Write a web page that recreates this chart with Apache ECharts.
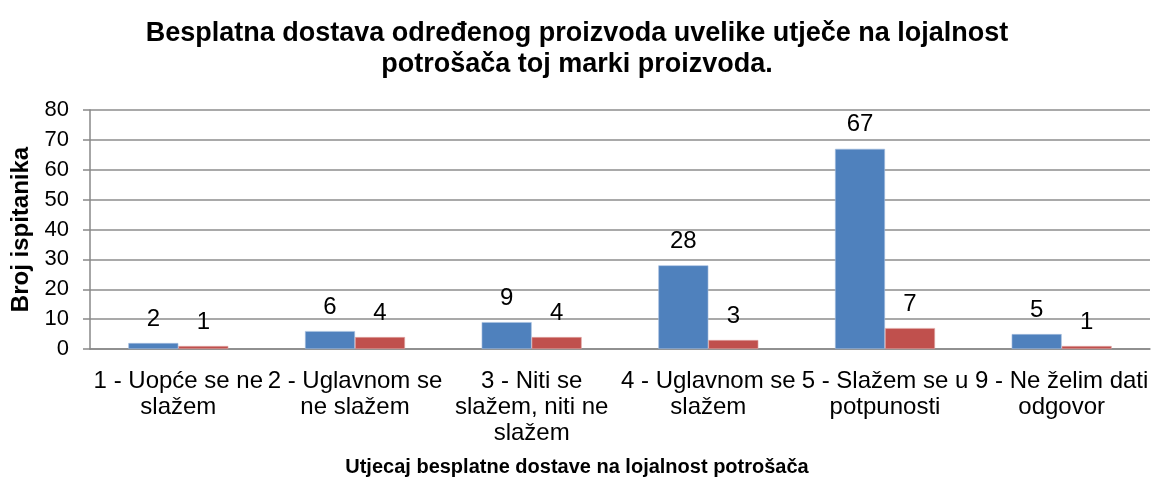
<!DOCTYPE html>
<html>
<head>
<meta charset="utf-8">
<script src="https://cdn.jsdelivr.net/npm/echarts@6/dist/echarts.min.js"></script>
<style>
  html, body { margin: 0; padding: 0; background: #ffffff; }
  #chart { width: 1154px; height: 478px; }
</style>
</head>
<body>
<div id="chart"></div>
<script>
// Response categories (x axis), wrapped as they are printed under the axis
const categories = [
  '1 - Uopće se ne\nslažem',
  '2 - Uglavnom se\nne slažem',
  '3 - Niti se\nslažem, niti ne\nslažem',
  '4 - Uglavnom se\nslažem',
  '5 - Slažem se u\npotpunosti',
  '9 - Ne želim dati\nodgovor'
];

// Respondent counts for the two groups
const seriesA = [2, 6, 9, 28, 67, 5];
const seriesB = [1, 4, 4, 3, 7, 1];

// Value axis range
const yMin = 0;
const yMax = 80;
const yStep = 10;

const titleText = 'Besplatna dostava određenog proizvoda uvelike utječe na lojalnost\npotrošača toj marki proizvoda.';
const xAxisTitle = 'Utjecaj besplatne dostave na lojalnost potrošača';
const yAxisTitle = 'Broj ispitanika';

const FONT = '"Liberation Sans", Arial, sans-serif';

const chart = echarts.init(document.getElementById('chart'), null, { renderer: 'canvas' });

const labelStyle = {
  show: true,
  position: 'top',
  distance: 12,
  color: '#000',
  fontFamily: FONT,
  fontSize: 24
};

chart.setOption({
  backgroundColor: '#ffffff',
  animation: false,
  title: [
    {
      text: titleText,
      left: 'center',
      top: 13,
      textStyle: {
        fontFamily: FONT,
        fontWeight: 'bold',
        fontSize: 27,
        lineHeight: 31,
        color: '#000'
      }
    },
    {
      text: xAxisTitle,
      left: 'center',
      top: 452,
      textStyle: {
        fontFamily: FONT,
        fontWeight: 'bold',
        fontSize: 20,
        color: '#000'
      }
    }
  ],
  grid: { left: 90, right: 4, top: 110, bottom: 129, containLabel: false },
  xAxis: {
    type: 'category',
    data: categories,
    axisLine: { show: true, lineStyle: { color: '#888', width: 1.5 } },
    axisTick: { show: false },
    axisLabel: {
      interval: 0,
      margin: 19,
      color: '#000',
      fontFamily: FONT,
      fontSize: 24,
      lineHeight: 26,
      align: 'center'
    }
  },
  yAxis: {
    type: 'value',
    min: yMin,
    max: yMax,
    interval: yStep,
    name: yAxisTitle,
    nameLocation: 'middle',
    nameRotate: 90,
    nameGap: 56,
    nameTextStyle: {
      fontFamily: FONT,
      fontWeight: 'bold',
      fontSize: 24,
      color: '#000'
    },
    axisLine: { show: true, lineStyle: { color: '#888', width: 1.5 } },
    axisTick: { show: true, inside: false, length: 7, lineStyle: { color: '#888', width: 1.5 } },
    splitLine: { show: true, lineStyle: { color: '#8c8c8c', width: 1.5 } },
    axisLabel: {
      margin: 21,
      color: '#000',
      fontFamily: FONT,
      fontSize: 22
    }
  },
  series: [
    {
      name: 'Skupina 1',
      type: 'bar',
      data: seriesA,
      barWidth: 50,
      barGap: '0%',
      itemStyle: { color: '#4F81BD', borderColor: '#a9c1e0', borderWidth: 0.6 },
      label: labelStyle
    },
    {
      name: 'Skupina 2',
      type: 'bar',
      data: seriesB,
      barWidth: 50,
      barGap: '0%',
      itemStyle: { color: '#C0504D', borderColor: '#e0a9a7', borderWidth: 0.6 },
      label: labelStyle
    }
  ]
});
</script>
</body>
</html>
